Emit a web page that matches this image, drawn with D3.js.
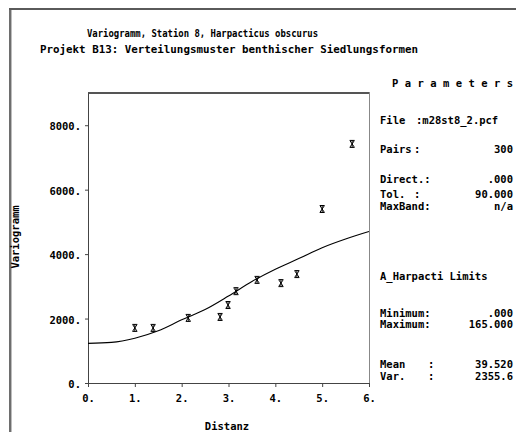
<!DOCTYPE html>
<html>
<head>
<meta charset="utf-8">
<script src="https://cdn.jsdelivr.net/npm/d3@7"></script>
<style>
  body { margin: 0; background: #fff; }
  svg text { font-family: "DejaVu Sans Mono", monospace; font-size: 10.5px; font-weight: bold; fill: #000; }
</style>
</head>
<body>
<div id="chart"></div>
<script>
// experimentelle Variogrammpunkte
const distanz = [1.0, 1.39, 2.14, 2.82, 2.99, 3.16, 3.61, 4.12, 4.46, 5.0, 5.64];
const gamma = [1710, 1710, 2020, 2050, 2420, 2850, 3200, 3100, 3380, 5400, 7420];

// angepasstes Modell
const modellDist = [0, 0.5, 1, 1.5, 2, 2.5, 3, 3.5, 4, 4.5, 5, 5.5, 6];
const modellGamma = [1230, 1260, 1390, 1620, 1960, 2280, 2700, 3150, 3530, 3860, 4200, 4470, 4700];

const xTicks = [0, 1, 2, 3, 4, 5, 6];
const yTicks = [0, 2000, 4000, 6000, 8000];

const titel = ["Variogramm, Station 8, Harpacticus obscurus",
               "Projekt B13: Verteilungsmuster benthischer Siedlungsformen"];

// Parameterblock: [label, doppelpunkt, wert]
const paramZeilen = [
    ["File", "", ":m28st8_2.pcf"],
    ["Pairs", ":", "300"],
    ["Direct.:", "", ".000"],
    ["Tol.", ":", "90.000"],
    ["MaxBand:", "", "n/a"],
    ["A_Harpacti Limits", "", ""],
    ["Minimum:", "", ".000"],
    ["Maximum:", "", "165.000"],
    ["Mean", ":", "39.520"],
    ["Var.", ":", "2355.6"]
];

const width = 516, height = 432;
const svg = d3.select("#chart").append("svg").attr("width", width).attr("height", height);

// Rahmen
svg.append("rect").attr("x", 9).attr("y", 8).attr("width", 2).attr("height", height).attr("fill", "#6e6e6e");
svg.append("rect").attr("x", 11).attr("y", 10).attr("width", 1).attr("height", height).attr("fill", "#bdbdbd");
svg.append("rect").attr("x", 9).attr("y", 8).attr("width", width).attr("height", 2).attr("fill", "#5a5a5a");

// Titel
svg.append("text").attr("x", 87).attr("y", 37).attr("textLength", 231).attr("lengthAdjust", "spacingAndGlyphs").text(titel[0]);
svg.append("text").attr("x", 40).attr("y", 53).attr("textLength", 378).attr("lengthAdjust", "spacingAndGlyphs").text(titel[1]);

const x = d3.scaleLinear().domain([0, 6]).range([88, 369]);
const y = d3.scaleLinear().domain([0, 9000]).range([383, 93]);

// Plotrahmen
svg.append("line").attr("x1", 88).attr("x2", 369).attr("y1", 93).attr("y2", 93).attr("stroke", "#555").attr("stroke-width", 2);
svg.append("line").attr("x1", 369.5).attr("x2", 369.5).attr("y1", 92).attr("y2", 383).attr("stroke", "#888");

const xAxis = svg.append("g").attr("transform", "translate(0,383)")
    .call(d3.axisBottom(x).tickValues(xTicks).tickSize(4).tickSizeOuter(0).tickFormat(d => d + "."));
const yAxis = svg.append("g").attr("transform", "translate(88,0)")
    .call(d3.axisLeft(y).tickValues(yTicks).tickSize(3).tickSizeOuter(0).tickFormat(d => d + "."));
[xAxis, yAxis].forEach(a => {
    a.select(".domain").attr("stroke", "#444");
    a.selectAll(".tick line").attr("stroke", "#444");
    a.selectAll("text").attr("font-family", null).attr("font-size", null).attr("fill", "#000");
});
xAxis.selectAll("text").attr("dy", null).attr("y", 19).attr("dx", 0);
yAxis.selectAll("text").attr("x", -7).attr("dy", "0.45em");

// Achsentitel
svg.append("text").attr("x", 227).attr("y", 430).attr("text-anchor", "middle").text("Distanz");
svg.append("text").attr("transform", "translate(19,237) rotate(-90)").attr("text-anchor", "middle").text("Variogramm");

// Modellkurve
const linie = d3.line().x(d => x(d[0])).y(d => y(d[1])).curve(d3.curveMonotoneX);
svg.append("path")
    .datum(modellDist.map((d, i) => [d, modellGamma[i]]))
    .attr("d", linie)
    .attr("fill", "none").attr("stroke", "#000").attr("stroke-width", 1.1);

// Punkte als Sternchen
const stern = "M-2.5,-3.5h5M-2.5,3.5h5M-2,-3L2,3M2,-3L-2,3M0,-3.5V3.5";
svg.selectAll(".punkt").data(distanz).enter().append("path")
    .attr("class", "punkt")
    .attr("transform", (d, i) => `translate(${x(d)},${y(gamma[i])})`)
    .attr("d", stern)
    .attr("fill", "none").attr("stroke", "#000").attr("stroke-width", 1);

// Parameter
svg.append("text").attr("x", 392).attr("y", 87).attr("textLength", 121).attr("lengthAdjust", "spacing").text("Parameters");
const zeilenY = [124, 153, 183, 198, 210, 280, 317, 328, 368, 380];
paramZeilen.forEach((z, i) => {
    const yy = zeilenY[i];
    svg.append("text").attr("x", 380).attr("y", yy).text(z[0]);
    if (z[1]) svg.append("text").attr("x", i < 5 ? 414 : 428).attr("y", yy).text(z[1]);
    if (z[2]) {
        if (i === 0) svg.append("text").attr("x", 416).attr("y", yy).text(z[2]);
        else svg.append("text").attr("x", 513).attr("y", yy).attr("text-anchor", "end").text(z[2]);
    }
});
</script>
</body>
</html>
